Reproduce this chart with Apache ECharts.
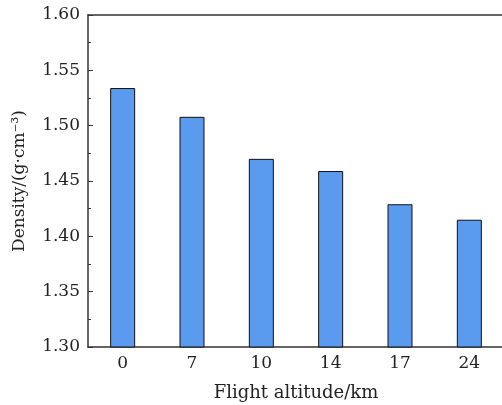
<!DOCTYPE html>
<html>
<head>
<meta charset="utf-8">
<script src="https://cdn.jsdelivr.net/npm/echarts@6/dist/echarts.min.js"></script>
<style>
  html, body { margin: 0; padding: 0; background: #fff; }
  .box { width: 502px; height: 405px; }
</style>
</head>
<body>
<div class="box"></div>
<script>
// 数据
var altitudes = ['0', '7', '10', '14', '17', '24'];
var densities = [1.534, 1.508, 1.470, 1.459, 1.429, 1.415];

var myChart = echarts.init(document.querySelector(".box"));
var option = {
  animation: false,
  textStyle: { fontFamily: 'DejaVu Serif' },
  grid: {
    left: 88,
    right: -2,
    top: 15,
    bottom: 58,
    containLabel: false,
    outerBoundsMode: 'none'
  },
  xAxis: [{
    type: 'category',
    data: altitudes,
    name: 'Flight altitude/km',
    nameLocation: 'middle',
    nameGap: 37,
    nameTextStyle: { color: '#222', fontSize: 18, fontFamily: 'DejaVu Serif' },
    axisLine: { lineStyle: { color: '#333', width: 1.5 } },
    axisTick: { inside: true, length: 4, lineStyle: { color: '#333' } },
    axisLabel: { color: '#222', fontSize: 17, margin: 8, fontFamily: 'DejaVu Serif' }
  }, {
    // 顶部边框线
    type: 'category',
    data: altitudes,
    position: 'top',
    axisLine: { show: true, lineStyle: { color: '#333', width: 1.5 } },
    axisTick: { show: false },
    axisLabel: { show: false }
  }],
  yAxis: {
    type: 'value',
    min: 1.3,
    max: 1.6,
    interval: 0.05,
    name: 'Density/(g·cm⁻³)',
    nameLocation: 'middle',
    nameGap: 60,
    nameTextStyle: { color: '#222', fontSize: 17, fontFamily: 'DejaVu Serif' },
    axisLine: { show: true, lineStyle: { color: '#333', width: 1.5 } },
    axisTick: { show: true, inside: true, length: 5, lineStyle: { color: '#333' } },
    minorTick: { show: true, splitNumber: 2, length: 3, lineStyle: { color: '#333' } },
    splitLine: { show: false },
    axisLabel: {
      color: '#222',
      fontSize: 17,
      margin: 8,
      fontFamily: 'DejaVu Serif',
      formatter: function (v) { return v.toFixed(2); }
    }
  },
  series: [{
    type: 'bar',
    data: densities,
    barWidth: 25,
    itemStyle: {
      color: '#5b9bef',
      borderColor: '#111',
      borderWidth: 1
    }
  }]
};
myChart.setOption(option);
</script>
</body>
</html>
